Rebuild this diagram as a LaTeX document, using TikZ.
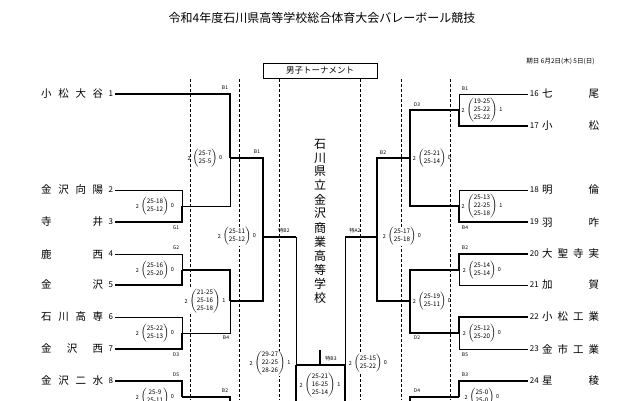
\documentclass[tikz,border=0pt]{standalone}
\usepackage{fontspec}
\setmainfont{Noto Sans CJK JP}
\usetikzlibrary{positioning}
\tikzset{win/.style={line width=2.2pt},
	lose/.style={line width=0.7pt},
	guide/.style={densely dashed,line width=0.5pt},
	team/.style={anchor=west,inner sep=0pt,font=\fontsize{10.5}{12}\selectfont},
	num/.style={inner sep=2pt,font=\fontsize{8}{10}\selectfont},
	score/.style={inner sep=0.5pt,fill=white,font=\fontsize{6.3}{8}\selectfont},
	side/.style={inner sep=1pt,font=\fontsize{5.5}{7}\selectfont},
	tag/.style={inner sep=0pt,font=\fontsize{5}{6}\selectfont}}
\newcommand{\res}[5]{%
	\node [score] (#1) at (#2) {$\left(\begin{tabular}{@{}c@{}}#3\end{tabular}\right)$};
	\node [side, left = 0pt of #1] {#4};
	\node [side, right = 0pt of #1] {#5};}
\begin{document}
\begin{tikzpicture}[x=1pt,y=-1pt]
	\useasboundingbox (0,0) rectangle (640,400);
	% heading
	\node [font=\fontsize{12}{14}\selectfont] (title) at (322,18) {令和4年度石川県高等学校総合体育大会バレーボール競技};
	\node [font=\fontsize{6.5}{8}\selectfont, anchor=east] (date) at (598,61) {期日\ 6月2日(木)~5日(日)};
	\node [draw, line width=0.6pt, minimum width=114pt, minimum height=15pt, font=\fontsize{8.5}{10}\selectfont] (head) at (320,71) {男子トーナメント};
	\node [font=\fontsize{12}{13.2}\selectfont, inner sep=0pt] (venue) at (320,223)
		{\begin{tabular}{@{}c@{}}石\\川\\県\\立\\金\\沢\\商\\業\\高\\等\\学\\校\end{tabular}};
	% guides
	\foreach \x in {190,239,279,360,401,450}
		\draw [guide] (\x,79) -- (\x,400);
	% left teams
	\node [team] (a1) at (41,94) {\makebox[62pt][s]{小\hfil 松\hfil 大\hfil 谷}};
	\node [team] (a2) at (41,190) {\makebox[62pt][s]{金\hfil 沢\hfil 向\hfil 陽}};
	\node [team] (a3) at (41,222) {\makebox[62pt][s]{寺\hfil 井}};
	\node [team] (a4) at (41,254) {\makebox[62pt][s]{鹿\hfil 西}};
	\node [team] (a5) at (41,285) {\makebox[62pt][s]{金\hfil 沢}};
	\node [team] (a6) at (41,317) {\makebox[62pt][s]{石\hfil 川\hfil 高\hfil 専}};
	\node [team] (a7) at (41,349) {\makebox[62pt][s]{金\hfil 沢\hfil 西}};
	\node [team] (a8) at (41,381) {\makebox[62pt][s]{金\hfil 沢\hfil 二\hfil 水}};
	\foreach \i in {1,...,8}
		\node [num, right = 3pt of a\i] (n\i) {\i};
	% right teams
	\node [team] (b16) at (542,94) {\makebox[57pt][s]{七\hfil 尾}};
	\node [team] (b17) at (542,126) {\makebox[57pt][s]{小\hfil 松}};
	\node [team] (b18) at (542,190) {\makebox[57pt][s]{明\hfil 倫}};
	\node [team] (b19) at (542,222) {\makebox[57pt][s]{羽\hfil 咋}};
	\node [team] (b20) at (542,254) {\makebox[57pt][s]{大\hfil 聖\hfil 寺\hfil 実}};
	\node [team] (b21) at (542,285) {\makebox[57pt][s]{加\hfil 賀}};
	\node [team] (b22) at (542,317) {\makebox[57pt][s]{小\hfil 松\hfil 工\hfil 業}};
	\node [team] (b23) at (542,349) {\makebox[57pt][s]{金\hfil 市\hfil 工\hfil 業}};
	\node [team] (b24) at (542,381) {\makebox[57pt][s]{星\hfil 稜}};
	\foreach \i in {16,...,24}
		\node [num, left = 1pt of b\i] (n\i) {\i};
	% joins
	\coordinate (gA) at (182,206);
	\coordinate (gB) at (182,270);
	\coordinate (gC) at (182,333);
	\coordinate (gD) at (182,397);
	\coordinate (hA) at (230,158);
	\coordinate (hB) at (230,301);
	\coordinate (hC) at (230,397);
	\coordinate (kA) at (263,237);
	\coordinate (rgA) at (459,110);
	\coordinate (rgB) at (459,206);
	\coordinate (rgC) at (459,270);
	\coordinate (rgD) at (459,333);
	\coordinate (rgE) at (459,397);
	\coordinate (rhA) at (410,158);
	\coordinate (rhB) at (410,301);
	\coordinate (rhC) at (410,397);
	\coordinate (rkA) at (377,237);
	\coordinate (sL) at (296,365);
	\coordinate (sR) at (345,365);
	\coordinate (fin) at (320,350);
	% left bracket
	\draw [win] (n1.east) -| (hA);
	\draw [lose] (n2.east) -| (gA);
	\draw [win] (n3.east) -| (gA);
	\draw [lose] (gA) -| (hA);
	\draw [win] (hA) -| (kA);
	\draw [lose] (n4.east) -| (gB);
	\draw [win] (n5.east) -| (gB);
	\draw [win] (gB) -| (hB);
	\draw [lose] (n6.east) -| (gC);
	\draw [win] (n7.east) -| (gC);
	\draw [lose] (gC) -| (hB);
	\draw [win] (hB) -| (kA);
	\draw [win] (kA) -- (kA -| sL);
	\draw [lose] (kA -| sL) -- (sL);
	\draw [win] (n8.east) -| (gD);
	\draw [win] (gD) -- (hC) -- ++(0,10);
	% right bracket
	\draw [lose] (n16.west) -| (rgA);
	\draw [win] (n17.west) -| (rgA);
	\draw [win] (rgA) -| (rhA);
	\draw [lose] (n18.west) -| (rgB);
	\draw [win] (n19.west) -| (rgB);
	\draw [win] (rgB) -| (rhA);
	\draw [win] (rhA) -| (rkA);
	\draw [win] (n20.west) -| (rgC);
	\draw [lose] (n21.west) -| (rgC);
	\draw [win] (rgC) -| (rhB);
	\draw [win] (n22.west) -| (rgD);
	\draw [lose] (n23.west) -| (rgD);
	\draw [win] (rgD) -| (rhB);
	\draw [win] (rhB) -| (rkA);
	\draw [win] (rkA) -- (rkA -| sR);
	\draw [lose] (rkA -| sR) -- (sR);
	\draw [win] (n24.west) -| (rgE);
	\draw [win] (rgE) -- (rhC) -- ++(0,10);
	% centre
	\draw [win] (sL) -- (sR);
	\draw [win] (fin) -- (fin |- sL);
	\draw [win] (sL) -- ++(0,40);
	\draw [win] (sR) -- ++(0,40);
	% scores
	\res{m1}{155,206}{25-18\\25-12}{2}{0}
	\res{m2}{155,270}{25-16\\25-20}{2}{0}
	\res{m3}{155,333}{25-22\\25-13}{2}{0}
	\res{m4}{155,397}{25-9\\25-11}{2}{0}
	\res{m5}{205,158}{25-7\\25-5}{2}{0}
	\res{m6}{205,301}{21-25\\25-16\\25-18}{2}{1}
	\res{m7}{237,236}{25-11\\25-12}{2}{0}
	\res{m8}{270,363}{29-27\\22-25\\28-26}{2}{1}
	\res{m9}{320,385}{25-21\\16-25\\25-14}{2}{1}
	\res{m10}{368,363}{25-15\\25-22}{2}{0}
	\res{m11}{402,236}{25-17\\25-18}{2}{0}
	\res{m12}{432,158}{25-21\\25-14}{2}{0}
	\res{m13}{432,301}{25-19\\25-11}{2}{0}
	\res{m14}{482,110}{19-25\\25-22\\25-22}{2}{1}
	\res{m15}{482,206}{25-13\\22-25\\25-18}{2}{1}
	\res{m16}{482,270}{25-14\\25-14}{2}{0}
	\res{m17}{482,333}{25-12\\25-20}{2}{0}
	\res{m18}{482,397}{25-0\\25-0}{2}{0}
	% court tags
	\node [tag] (c1) at (225,88) {B1};
	\node [tag] (c2) at (257,152) {B1};
	\node [tag] (c3) at (176,228) {G1};
	\node [tag] (c4) at (176,248) {G2};
	\node [tag] (c5) at (226,338) {B4};
	\node [tag] (c6) at (176,355) {D3};
	\node [tag] (c7) at (176,375) {D5};
	\node [tag] (c8) at (225,391) {B2};
	\node [tag] (c9) at (284,231) {特B2};
	\node [tag] (c10) at (331,359) {特B3};
	\node [tag] (c11) at (355,231) {特A2};
	\node [tag] (c12) at (417,105) {D3};
	\node [tag] (c13) at (465,89) {B1};
	\node [tag] (c14) at (383,153) {B2};
	\node [tag] (c15) at (465,228) {B4};
	\node [tag] (c16) at (465,248) {B2};
	\node [tag] (c17) at (417,338) {D2};
	\node [tag] (c18) at (465,355) {B5};
	\node [tag] (c19) at (465,375) {B3};
	\node [tag] (c20) at (417,391) {D4};
\end{tikzpicture}
\end{document}
